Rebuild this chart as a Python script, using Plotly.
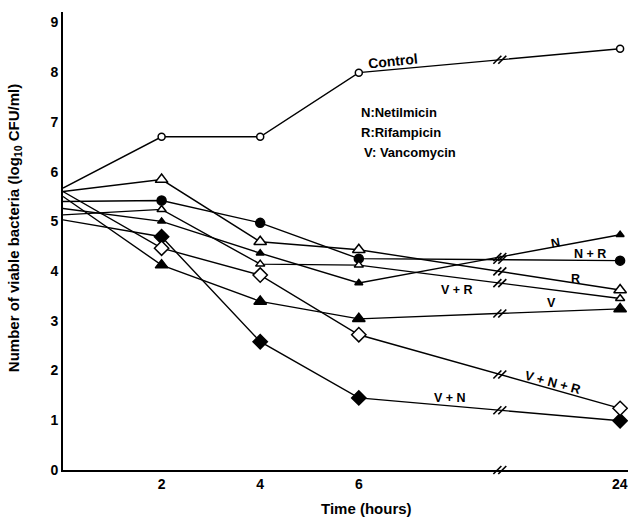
import plotly.graph_objects as go

# ---- data ----
times = [0, 2, 4, 6, 24]
control = [5.67, 6.70, 6.70, 7.99, 8.47]
n_only = [5.26, 5.00, 4.36, 3.76, 4.73]
r_only = [5.60, 5.84, 4.59, 4.43, 3.62]
v_only = [5.50, 4.12, 3.39, 3.04, 3.24]
n_r = [5.40, 5.42, 4.97, 4.25, 4.21]
v_r = [5.13, 5.24, 4.14, 4.12, 3.45]
v_n = [5.03, 4.69, 2.58, 1.45, 0.99]
v_n_r = [5.60, 4.46, 3.92, 2.72, 1.24]

x_ticks = [2, 4, 6, 24]
y_ticks = list(range(0, 10))

# ---- broken time axis: 0-6 h linear, 24 h placed after a break ----
POS_24 = 11.3
BREAK_POS = 8.86


def tpos(t):
    return t if t <= 6 else POS_24


xs = [tpos(t) for t in times]

series = [
    # name, values, symbol, size, fill
    ("Control", control, "circle", 7, "white"),
    ("N", n_only, "triangle-up", 7, "black"),
    ("R", r_only, "triangle-up", 11, "white"),
    ("V", v_only, "triangle-up", 11, "black"),
    ("N+R", n_r, "circle", 9, "black"),
    ("V+R", v_r, "triangle-up", 8, "white"),
    ("V+N", v_n, "diamond", 11, "black"),
    ("V+N+R", v_n_r, "diamond", 11, "white"),
]

fig = go.Figure()
frac = (BREAK_POS - 6) / (POS_24 - 6)
bx, by = [], []
for name, vals, sym, size, fill in series:
    fig.add_trace(go.Scatter(
        x=xs, y=vals, mode="lines", name=name,
        line=dict(color="black", width=1.4),
        cliponaxis=False, showlegend=False,
    ))
    yb = vals[3] + (vals[4] - vals[3]) * frac
    bx += [BREAK_POS - 0.05, BREAK_POS + 0.05]
    by += [yb, yb]

for name, vals, sym, size, fill in series:
    # no marker at t = 0 (lines start from the axis)
    fig.add_trace(go.Scatter(
        x=xs[1:], y=vals[1:], mode="markers", name=name,
        marker=dict(symbol=sym, size=size, color=fill, opacity=1,
                    line=dict(color="black", width=1.5)),
        cliponaxis=False, showlegend=False,
    ))

# break marks on the lines and on the axis
bx += [BREAK_POS - 0.05, BREAK_POS + 0.05]
by += [0, 0]
fig.add_trace(go.Scatter(
    x=bx, y=by, mode="markers",
    marker=dict(symbol="line-ne", size=8, line=dict(color="black", width=1.6)),
    cliponaxis=False, showlegend=False, hoverinfo="skip",
))

FAM = "Liberation Sans, Arial, sans-serif"
font_bold = dict(family=FAM, size=14, color="black", weight="bold")

ann = []


def lab(text, x, y, angle=0, size=12.5, xanchor="center"):
    ann.append(dict(text=text, x=x, y=y, xref="x", yref="y", showarrow=False,
                    textangle=angle, xanchor=xanchor, yanchor="middle",
                    font=dict(family=FAM, size=size, color="black",
                              weight="bold")))


lab("Control", 6.69, 8.22, -6, 14)
lab("N", 9.98, 4.57, -10)
lab("N + R", 10.69, 4.35)
lab("R", 10.39, 3.84)
lab("V + R", 7.99, 3.62)
lab("V", 9.9, 3.36)
lab("V + N + R", 9.94, 1.75, 15, 13)
lab("V + N", 7.85, 1.45)
lab("N:Netilmicin", 6.0, 7.18, size=13, xanchor="left")
lab("R:Rifampicin", 6.0, 6.78, size=13, xanchor="left")
lab("V: Vancomycin", 6.06, 6.38, size=13, xanchor="left")

# the 24 h tick label sits at the right edge, drawn as an axis-anchored label
ann.append(dict(text=str(x_ticks[-1]), x=tpos(x_ticks[-1]), xref="x",
                y=0, yref="paper", yshift=-14, showarrow=False,
                yanchor="middle", font=font_bold))

ann.append(dict(text="Number of viable bacteria (log<sub>10</sub> CFU/ml)",
                xref="paper", yref="paper", x=0, y=0.528, xshift=-49,
                xanchor="center", yanchor="middle",
                textangle=-90, showarrow=False,
                font=dict(family=FAM, size=15, color="black", weight="bold")))
ann.append(dict(text="Time (hours)", xref="paper", yref="paper", x=0.538, y=0,
                yshift=-38, xanchor="center", yanchor="middle",
                showarrow=False,
                font=dict(family=FAM, size=15, color="black", weight="bold")))

fig.update_layout(
    width=628, height=518,
    margin=dict(l=63, r=0, t=12, b=48),
    paper_bgcolor="white", plot_bgcolor="white",
    font=font_bold,
    annotations=ann,
    xaxis=dict(range=[0, 11.46], tickvals=[tpos(t) for t in x_ticks[:-1]],
               ticktext=[str(t) for t in x_ticks[:-1]], showgrid=False,
               zeroline=False, showline=True, linecolor="black", linewidth=2,
               ticks="", tickfont=font_bold),
    yaxis=dict(range=[0, 9.21], tickvals=y_ticks, showgrid=False,
               zeroline=False, showline=True, linecolor="black", linewidth=2,
               ticks="", tickfont=font_bold),
)

# remove the default page margin so the 628x518 figure fills the window
fig.write_html(
    "out.html",
    config={"displayModeBar": False},
    post_script="document.body.style.margin='0';"
                "document.body.style.overflow='hidden';",
)
